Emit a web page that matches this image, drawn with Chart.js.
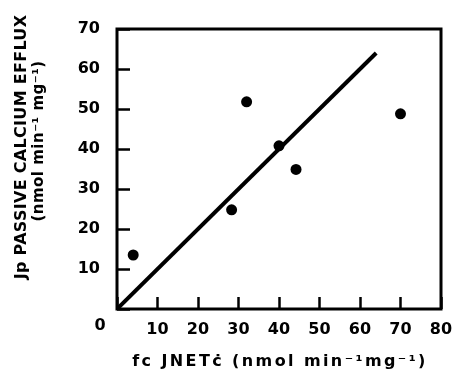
<!DOCTYPE html>
<html>
<head>
<meta charset="utf-8">
<script src="https://cdn.jsdelivr.net/npm/chart.js@4.4.1/dist/chart.umd.min.js"></script>
<style>
  html, body { margin: 0; padding: 0; background: #fff; }
  canvas { display: block; }
</style>
</head>
<body>
<canvas id="effluxChart" width="457" height="375"></canvas>
<script>
// measured fluxes (nmol min-1 mg-1)
const netFlux = [4, 28.3, 32, 40, 44.2, 70];
const passiveEfflux = [13.5, 24.8, 51.8, 40.8, 34.9, 48.8];
// line of identity
const identityX = [0, 64];
const identityY = [0, 64];

const xMax = 80;
const yMax = 70;
const tickStep = 10;

const yTitle = ['Jp PASSIVE CALCIUM EFFLUX', '(nmol min\u207B\u00B9 mg\u207B\u00B9)'];
const xTitle = 'fc JNET\u010B (nmol min\u207B\u00B9mg\u207B\u00B9)';

const FONT = '"DejaVu Sans", sans-serif';

const framePlugin = {
    id: 'frame',
    afterDraw(chart) {
        const { ctx, chartArea } = chart;
        ctx.save();
        ctx.strokeStyle = '#000';
        ctx.lineWidth = 3;
        ctx.strokeRect(chartArea.left, chartArea.top,
            chartArea.right - chartArea.left, chartArea.bottom - chartArea.top);

        ctx.fillStyle = '#000';
        // shared origin label
        ctx.font = 'bold 16px ' + FONT;
        ctx.textAlign = 'center';
        ctx.textBaseline = 'middle';
        ctx.fillText('0', chartArea.left - 17, chartArea.bottom + 17);

        // x axis title
        ctx.font = 'bold 16px ' + FONT;
        ctx.letterSpacing = '2.4px';
        ctx.fillText(xTitle, 280, 362);

        // y axis title, rotated
        ctx.translate(22, 147);
        ctx.rotate(-Math.PI / 2);
        ctx.letterSpacing = '0.3px';
        ctx.font = 'bold 16px ' + FONT;
        ctx.fillText(yTitle[0], 0, 0);
        ctx.letterSpacing = '0.5px';
        ctx.font = 'bold 15px ' + FONT;
        ctx.fillText(yTitle[1], 6, 17);
        ctx.restore();
    }
};

const ctx = document.getElementById('effluxChart').getContext('2d');
new Chart(ctx, {
    type: 'scatter',
    data: {
        datasets: [{
            data: netFlux.map((x, i) => ({ x: x, y: passiveEfflux[i] })),
            pointRadius: 5.5,
            pointBackgroundColor: '#000',
            pointBorderWidth: 0
        }, {
            data: identityX.map((x, i) => ({ x: x, y: identityY[i] })),
            showLine: true,
            borderColor: '#000',
            borderWidth: 4,
            pointRadius: 0
        }]
    },
    options: {
        responsive: false,
        animation: false,
        events: [],
        layout: { padding: { left: 0, right: 16, top: 29, bottom: 0 } },
        plugins: {
            legend: { display: false },
            tooltip: { enabled: false }
        },
        scales: {
            x: {
                type: 'linear',
                min: 0,
                max: xMax,
                ticks: {
                    stepSize: tickStep,
                    color: '#000',
                    font: { family: FONT, size: 16, weight: 'bold' },
                    padding: 23,
                    callback: v => v === 0 ? '' : v
                },
                grid: { drawOnChartArea: false, tickLength: -12, tickWidth: 2.5, color: '#000' },
                border: { display: false },
                afterFit: s => {
                    s.height = 66;
                    s.paddingLeft = 0;
                    s.paddingRight = 0;
                }
            },
            y: {
                type: 'linear',
                min: 0,
                max: yMax,
                ticks: {
                    stepSize: tickStep,
                    color: '#000',
                    font: { family: FONT, size: 16, weight: 'bold' },
                    padding: 30,
                    callback: v => v === 0 ? '' : v
                },
                grid: { drawOnChartArea: false, tickLength: -13, tickWidth: 2.5, color: '#000' },
                border: { display: false },
                afterFit: s => {
                    s.width = 117;
                    s.paddingTop = 0;
                    s.paddingBottom = 0;
                }
            }
        }
    },
    plugins: [framePlugin]
});
</script>
</body>
</html>
